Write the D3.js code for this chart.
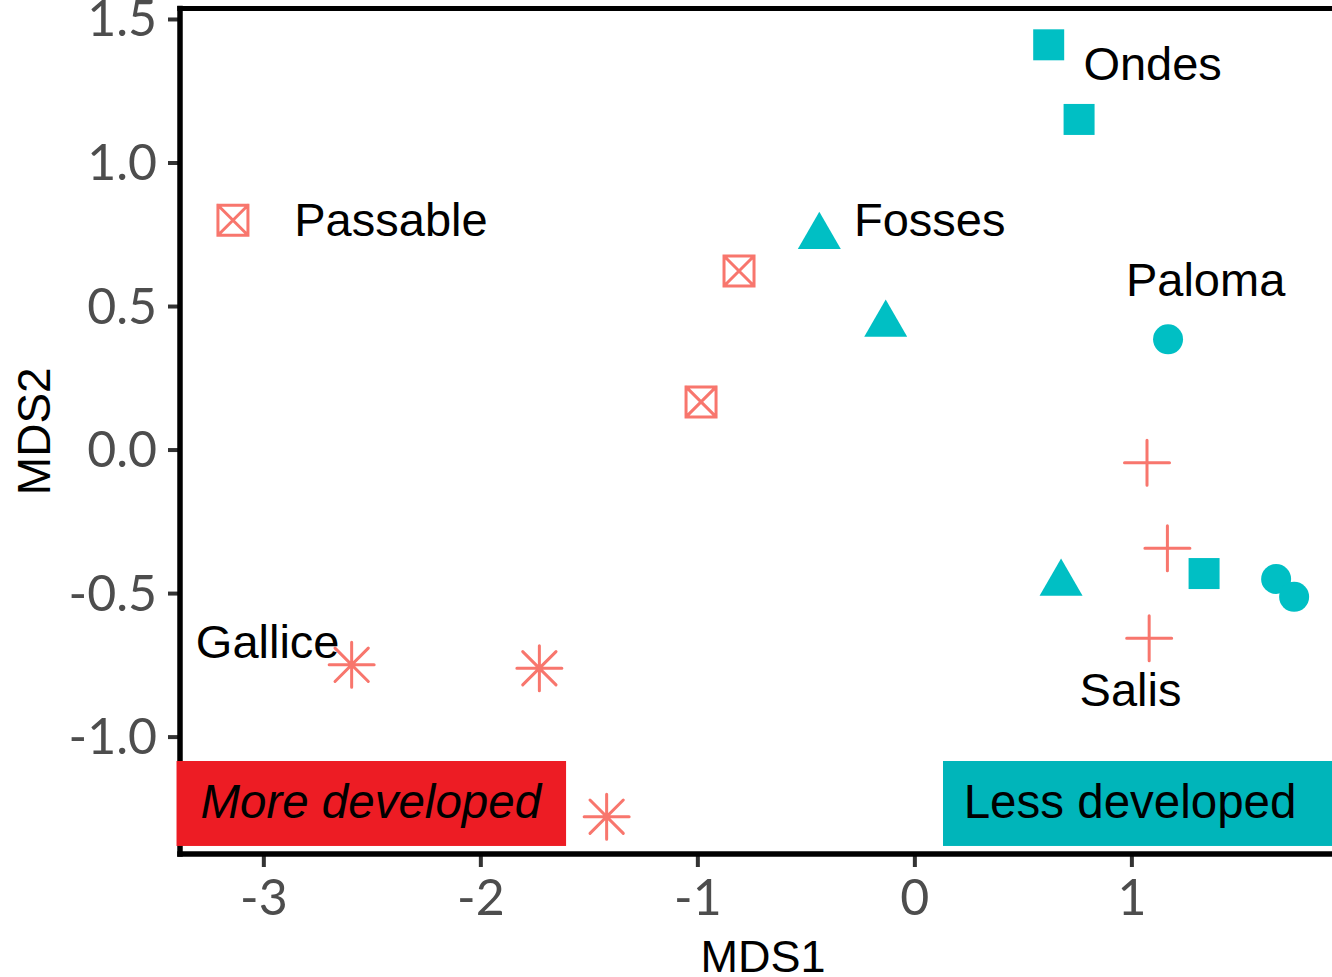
<!DOCTYPE html>
<html>
<head>
<meta charset="utf-8">
<script src="https://cdn.jsdelivr.net/npm/d3@7"></script>
<style>
  body { margin: 0; background: #ffffff; }
  svg { display: block; }
</style>
</head>
<body>
<svg id="chart" width="1332" height="977"></svg>
<script>
// ---- data -------------------------------------------------------------
const pointSite = [
  "Passable", "Passable", "Passable",
  "Fosses", "Fosses", "Fosses",
  "Ondes", "Ondes", "Ondes",
  "Paloma", "Paloma", "Paloma",
  "Salis", "Salis", "Salis",
  "Gallice", "Gallice", "Gallice"
];
const pointMDS1 = [
  -3.140, -0.808, -0.983,
  -0.438, -0.132, 0.676,
  0.619, 0.759, 1.335,
  1.169, 1.667, 1.750,
  1.072, 1.166, 1.082,
  -2.593, -1.728, -1.418
];
const pointMDS2 = [
  0.799, 0.622, 0.166,
  0.742, 0.436, -0.466,
  1.410, 1.150, -0.432,
  0.384, -0.451, -0.513,
  -0.046, -0.344, -0.657,
  -0.750, -0.762, -1.279
];

// site -> development group and marker
const sites      = ["Passable", "Fosses", "Ondes", "Paloma", "Salis", "Gallice"];
const siteGroup  = ["More", "Less", "Less", "Less", "More", "More"];
const siteShape  = ["boxcross", "triangle", "square", "circle", "plus", "asterisk"];

// site name annotations (centre of text, data units)
const labelText = ["Ondes", "Passable", "Fosses", "Paloma", "Salis", "Gallice"];
const labelX    = [1.098, -2.412, 0.071, 1.342, 0.996, -2.980];
const labelY    = [1.348, 0.804, 0.804, 0.595, -0.836, -0.668];

// development boxes
const boxText  = ["More developed", "Less developed"];
const boxXmin  = [-3.40, 0.132];
const boxXmax  = [-1.605, 2.10];
const boxYmin  = [-1.381, -1.381];
const boxYmax  = [-1.085, -1.085];
const boxTextX = [-2.505, 0.994];
const boxTextY = [-1.225, -1.225];
const boxItalic = [true, false];

// axes
const xTicks = [-3, -2, -1, 0, 1];
const xTickLabels = ["-3", "-2", "-1", "0", "1"];
const yTicks = [-1.0, -0.5, 0.0, 0.5, 1.0, 1.5];
const yTickLabels = ["-1.0", "-0.5", "0.0", "0.5", "1.0", "1.5"];

// ---- drawing ----------------------------------------------------------
const groupColor = { More: "#F8766D", Less: "#00BFC4" };
const boxFill = ["#ED1C24", "#00B5BA"];

const svg = d3.select("#chart");
const panel = { left: 180, right: 1346, top: 8.5, bottom: 854 };

const x = d3.scaleLinear().domain([-3.384, 1.989]).range([panel.left, panel.right]);
const y = d3.scaleLinear().domain([-1.409, 1.5365]).range([panel.bottom, panel.top]);

// y axis
const yAxis = svg.append("g")
  .attr("transform", `translate(${panel.left},0)`)
  .call(d3.axisLeft(y).tickValues(yTicks)
    .tickFormat((d, i) => yTickLabels[i])
    .tickSize(12).tickPadding(11).tickSizeOuter(0));
yAxis.select(".domain").remove();
yAxis.selectAll(".tick line").attr("stroke", "#333333").attr("stroke-width", 4);
yAxis.selectAll(".tick text")
  .attr("fill", "#4D4D4D")
  .attr("dy", "0.34em")
  .style("font-family", "Lato, 'Liberation Sans', sans-serif")
  .style("font-size", "50px");

// x axis
const xAxis = svg.append("g")
  .attr("transform", `translate(0,${panel.bottom})`)
  .call(d3.axisBottom(x).tickValues(xTicks)
    .tickFormat((d, i) => xTickLabels[i])
    .tickSize(13).tickPadding(12.5).tickSizeOuter(0));
xAxis.select(".domain").remove();
xAxis.selectAll(".tick line").attr("stroke", "#333333").attr("stroke-width", 4);
xAxis.selectAll(".tick text")
  .attr("fill", "#4D4D4D")
  .style("font-family", "Lato, 'Liberation Sans', sans-serif")
  .style("font-size", "50px");

// panel lines: left, bottom and top
const lineW = 5.5;
svg.append("line")
  .attr("x1", panel.left).attr("x2", panel.left)
  .attr("y1", panel.top - lineW / 2).attr("y2", panel.bottom + lineW / 2)
  .attr("stroke", "#000").attr("stroke-width", lineW);
svg.append("line")
  .attr("x1", panel.left - lineW / 2).attr("x2", panel.right)
  .attr("y1", panel.bottom).attr("y2", panel.bottom)
  .attr("stroke", "#000").attr("stroke-width", lineW);
svg.append("line")
  .attr("x1", panel.left - lineW / 2).attr("x2", panel.right)
  .attr("y1", panel.top).attr("y2", panel.top)
  .attr("stroke", "#000").attr("stroke-width", 5);

// axis titles
svg.append("text")
  .attr("x", (panel.left + panel.right) / 2).attr("y", 972)
  .attr("text-anchor", "middle")
  .style("font-family", "'Liberation Sans', Arial, sans-serif")
  .style("font-size", "45px")
  .text("MDS1");
svg.append("text")
  .attr("transform", `translate(50,${(panel.top + panel.bottom) / 2}) rotate(-90)`)
  .attr("text-anchor", "middle")
  .style("font-family", "'Liberation Sans', Arial, sans-serif")
  .style("font-size", "46px")
  .text("MDS2");

// development boxes
boxText.forEach((t, i) => {
  svg.append("rect")
    .attr("x", x(boxXmin[i]))
    .attr("y", y(boxYmax[i]))
    .attr("width", x(boxXmax[i]) - x(boxXmin[i]))
    .attr("height", y(boxYmin[i]) - y(boxYmax[i]))
    .attr("fill", boxFill[i]);
  svg.append("text")
    .attr("x", x(boxTextX[i])).attr("y", y(boxTextY[i]))
    .attr("dy", "0.36em")
    .attr("text-anchor", "middle")
    .style("font-family", "'Liberation Sans', Arial, sans-serif")
    .style("font-style", boxItalic[i] ? "italic" : "normal")
    .style("font-size", "47.5px")
    .text(t);
});

// marker path generators (centred at 0,0)
function plusPath(a) {
  return `M${-a},0H${a}M0,${-a}V${a}`;
}
function asteriskPath(a) {
  const d = a * 0.74;
  return plusPath(a) + `M${-d},${-d}L${d},${d}M${-d},${d}L${d},${-d}`;
}
function boxCrossPath(h) {
  return `M${-h},${-h}H${h}V${h}H${-h}Z M${-h},${-h}L${h},${h}M${-h},${h}L${h},${-h}`;
}
const symSquare = d3.symbol().type(d3.symbolSquare).size(961)();
const symTriangle = d3.symbol().type(d3.symbolTriangle).size(800)();
const symCircle = d3.symbol().type(d3.symbolCircle).size(707)();

const points = pointSite.map((s, i) => {
  const k = sites.indexOf(s);
  return { site: s, mds1: pointMDS1[i], mds2: pointMDS2[i],
           group: siteGroup[k], shape: siteShape[k] };
});

svg.append("g").selectAll("path")
  .data(points)
  .join("path")
  .attr("transform", d => `translate(${x(d.mds1)},${y(d.mds2)})`)
  .attr("d", d => {
    switch (d.shape) {
      case "square": return symSquare;
      case "triangle": return symTriangle;
      case "circle": return symCircle;
      case "plus": return plusPath(22.5);
      case "asterisk": return asteriskPath(22.5);
      default: return boxCrossPath(15);
    }
  })
  .attr("fill", d => ["square", "triangle", "circle"].includes(d.shape) ? groupColor[d.group] : "none")
  .attr("stroke", d => ["square", "triangle", "circle"].includes(d.shape) ? "none" : groupColor[d.group])
  .attr("stroke-width", 3)
  .attr("stroke-linecap", "round");

// site labels
svg.append("g").selectAll("text")
  .data(labelText)
  .join("text")
  .attr("x", (d, i) => x(labelX[i]))
  .attr("y", (d, i) => y(labelY[i]))
  .attr("dy", "0.36em")
  .attr("text-anchor", "middle")
  .style("font-family", "'Liberation Sans', Arial, sans-serif")
  .style("font-size", "47px")
  .attr("fill", "#000")
  .text(d => d);
</script>
</body>
</html>
